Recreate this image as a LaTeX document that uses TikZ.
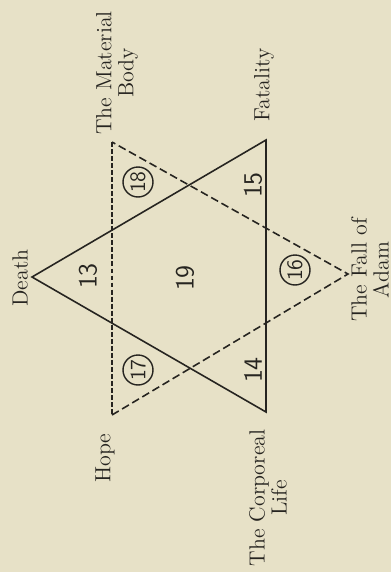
\documentclass[tikz,border=0pt]{standalone}
\usepackage{tikz}
\definecolor{PageTone}{HTML}{E7E1C7}
\definecolor{StarInk}{HTML}{262420}
\tikzset{
  figure/.style={x=0.02cm,y=-0.02cm,text=StarInk},
  corner/.style={rotate=90,align=center,inner sep=0pt,font=\fontsize{12.5}{12.5}\selectfont},
  number/.style={rotate=90,inner sep=0pt,font=\sffamily\fontsize{15}{15}\selectfont},
  ringed/.style={number,draw=StarInk,circle,line width=0.8pt,minimum size=0.6cm,font=\sffamily\fontsize{12.5}{12.5}\selectfont},
  solidside/.style={draw=StarInk,line width=0.9pt,line join=miter},
  dashside/.style={draw=StarInk,line width=0.9pt,dash pattern=on 4.5pt off 2.2pt},
  dashbase/.style={dashside,dash pattern=on 2.8pt off 1.2pt},
}

\begin{document}
\begin{tikzpicture}[figure]
  \fill[PageTone] (0,0) rectangle (391,572);
  \useasboundingbox (0,0) rectangle (391,572);

  \coordinate (death) at (32,277);
  \coordinate (fatality) at (266,140);
  \coordinate (corporeal) at (266,412);
  \coordinate (matbody) at (112,142);
  \coordinate (hope) at (112,415);
  \coordinate (adam) at (348,274);

  \draw[solidside] (death) -- (fatality) -- (corporeal) -- cycle;
  \draw[dashbase] (matbody) -- (hope);
  \draw[dashside] (hope) -- (adam) -- (matbody);

  \node[corner] (deathlabel) at (20,278) {Death};
  \node[corner] (matbodylabel) at (117,73) {The Material\\Body};
  \node[corner] (fatalitylabel) at (264,85) {Fatality};
  \node[corner] (hopelabel) at (105,458) {Hope};
  \node[corner] (corporeallabel) at (268,498) {The Corporeal\\Life};
  \node[corner] (adamlabel) at (370,270) {The Fall of\\Adam};

  \node[number] (n13) at (88,276) {13};
  \node[number] (n14) at (253,370) {14};
  \node[number] (n15) at (253,185) {15};
  \node[number] (n19) at (185,278) {19};
  \node[ringed] (n16) at (295,270) {16};
  \node[ringed] (n17) at (138,370) {17};
  \node[ringed] (n18) at (138,182) {18};
\end{tikzpicture}
\end{document}
